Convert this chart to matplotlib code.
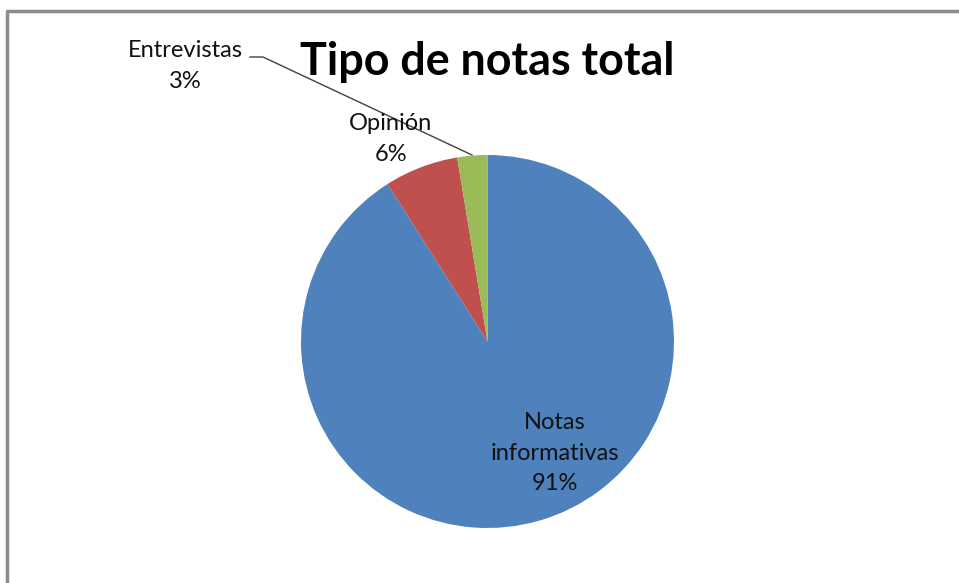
import matplotlib.pyplot as plt

categories = ["Notas\ninformativas", "Opinión", "Entrevistas"]
values = [91.0, 6.4, 2.6]
colors = ["#4F81BD", "#C0504D", "#9BBB59"]

W, H = 959, 583
fig = plt.figure(figsize=(W / 100, H / 100), dpi=100)
ax = fig.add_axes([0, 0, 1, 1])
ax.set_xlim(0, W)
ax.set_ylim(0, H)
ax.set_aspect("equal")
ax.axis("off")

# chart frame (only top and left edges visible in the crop)
ax.plot([7, 7, W], [0, H - 11, H - 11], color="#8c8c8c", lw=2.5, solid_capstyle="butt")

wedges, _ = ax.pie(values, colors=colors, startangle=90, counterclock=False,
                   center=(487.5, H - 341.5), radius=186.5,
                   wedgeprops=dict(linewidth=0))
ax.set_xlim(0, W)
ax.set_ylim(0, H)

font = "Lato"
ax.text(487, H - 62, "Tipo de notas total", fontsize=32.3, fontweight="bold",
        family=font, ha="center", va="center", color="black")

total = sum(values)
pct = [f"{round(v / total * 100)}%" for v in values]
label_pos = [(555, H - 453), (391, H - 139), (185, H - 66)]
for name, p, (x, y) in zip(categories, pct, label_pos):
    ax.text(x, y, f"{name}\n{p}", fontsize=17, family=font, ha="center",
            va="center", color="#111111", linespacing=1.58)

# leader line for the small slice
ax.plot([250, 263, 472], [H - 57, H - 57, H - 155], color="#404040", lw=1)

fig.savefig("out.png", dpi=100)
